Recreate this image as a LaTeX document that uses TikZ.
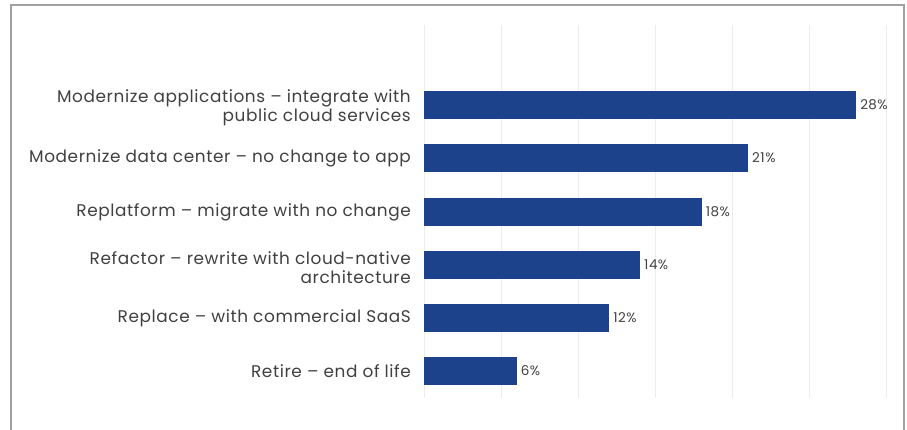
\documentclass[tikz,border=0pt]{standalone}
\usepackage{fontspec}
\setmainfont{Poppins}[LetterSpace=3.5]
\definecolor{barblue}{HTML}{1B428A}
\definecolor{txtgray}{HTML}{404040}
\definecolor{gridgray}{HTML}{ECECEC}
\definecolor{framegray}{HTML}{A0A0A0}
\begin{document}
\begin{tikzpicture}[x=1pt,y=-1pt,
  catlabel/.style={anchor=east,align=right,text=txtgray,font=\fontsize{16.9}{19}\selectfont,inner sep=0pt},
  pctlabel/.style={anchor=west,text=txtgray,font=\fontsize{13.5}{15}\selectfont,inner sep=0pt},
  gridline/.style={draw=gridgray,line width=1pt},
  barfill/.style={fill=barblue}]
\useasboundingbox (0,0) rectangle (907,430);
\draw[framegray,line width=1.5pt] (11,432) -- (11,5) -- (904,5) -- (904,432);
\foreach \k in {0,...,6}{
  \draw[gridline] (424+77*\k,25) -- (424+77*\k,398);
}
\def\pxper{15.43}
\foreach \v/\c/\lab/\n/\dy in {28/105/{Modernize applications -- integrate with\\public cloud services}/a/2.5,
  21/158/{Modernize data center -- no change to app}/b/0.5,
  18/212/{Replatform -- migrate with no change}/c/0.5,
  14/265/{Refactor -- rewrite with cloud-native\\architecture}/d/2.5,
  12/318/{Replace -- with commercial SaaS}/e/0.5,
  6/371/{Retire -- end of life}/f/0.5}{
  \fill[barfill] (424,\c-14) rectangle (424+\v*\pxper,\c+14);
  \coordinate (end\n) at (424+\v*\pxper,\c);
  \node[pctlabel] (pct\n) at ([xshift=4pt]end\n) {\v\%};
  \node[catlabel] (lab\n) at (411,\c+\dy) {\lab};
}
\end{tikzpicture}
\end{document}
